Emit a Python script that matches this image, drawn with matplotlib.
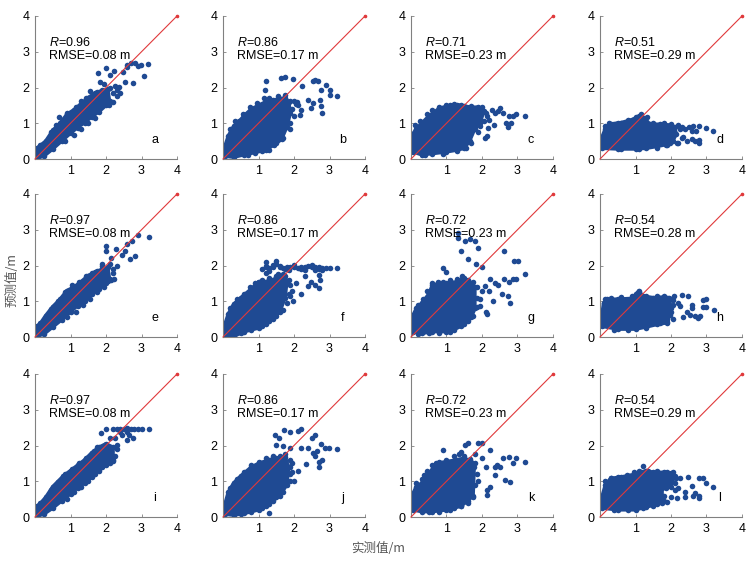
import matplotlib
matplotlib.use("Agg")
import matplotlib.pyplot as plt

plt.rcParams['font.family'] = ['Liberation Sans', 'DejaVu Sans']
plt.rcParams['mathtext.fontset'] = 'custom'
plt.rcParams['mathtext.it'] = 'Liberation Sans:italic'
plt.rcParams['mathtext.rm'] = 'Liberation Sans'

# ---------------- data ----------------
letters = ['a', 'b', 'c', 'd', 'e', 'f', 'g', 'h', 'i', 'j', 'k', 'l']
r_values = ['0.96', '0.86', '0.71', '0.51', '0.97', '0.86', '0.72', '0.54', '0.97', '0.86', '0.72', '0.54']
rmse_values = ['0.08', '0.17', '0.23', '0.29', '0.08', '0.17', '0.23', '0.28', '0.08', '0.17', '0.23', '0.29']
x_ticks = [1, 2, 3, 4]
y_ticks = [0, 1, 2, 3, 4]
ylabel = '预测值/m'
xlabel = '实测值/m'

# dense point clouds: points on the outer edge of each cloud (in order); *_pts: scattered points
a_cloud_x = [0.05, 0.25, 0.5, 0.75, 1.0, 1.2, 1.4, 1.6, 1.8, 2.0, 2.1, 2.05, 1.9, 1.7, 1.5, 1.3, 1.1, 0.9, 0.7, 0.5, 0.3, 0.15, 0.05]
a_cloud_y = [0.02, 0.08, 0.28, 0.5, 0.72, 0.88, 1.02, 1.18, 1.32, 1.5, 1.62, 1.95, 1.92, 1.85, 1.72, 1.55, 1.38, 1.25, 1.0, 0.8, 0.5, 0.38, 0.3]
a_pts_x = [0.69, 1.78, 2.0, 1.83, 2.11, 2.23, 2.54, 2.47, 2.58, 2.7, 2.82, 2.98, 3.19, 3.07, 2.77, 2.09, 2.0, 2.3, 2.38, 1.88, 1.76, 2.6, 2.9,
           0.45, 0.6, 0.9, 1.15, 1.3, 1.45, 1.55, 0.85, 1.1, 1.3, 1.5, 1.7, 2.2, 2.3, 2.2, 2.1, 2.25, 2.4, 1.95]
a_pts_y = [1.17, 2.41, 2.54, 2.16, 2.35, 2.46, 2.16, 2.44, 2.58, 2.69, 2.68, 2.63, 2.65, 2.32, 2.12, 1.51, 1.65, 1.93, 2.02, 1.74, 1.88, 2.62, 2.6,
           0.75, 0.95, 1.3, 1.45, 1.62, 1.72, 1.9, 0.5, 0.67, 0.85, 1.0, 1.15, 1.6, 1.75, 1.85, 2.0, 2.05, 1.85, 2.1]

b_cloud_x = [0.05, 0.3, 0.6, 0.9, 1.2, 1.45, 1.65, 1.8, 1.9, 1.85, 1.75, 1.6, 1.4, 1.2, 1.0, 0.8, 0.6, 0.45, 0.3, 0.15, 0.05]
b_cloud_y = [0.08, 0.05, 0.12, 0.18, 0.25, 0.4, 0.55, 0.9, 1.3, 1.6, 1.72, 1.68, 1.65, 1.6, 1.5, 1.4, 1.22, 1.05, 0.92, 0.65, 0.35]
b_pts_x = [1.64, 1.76, 1.97, 2.23, 2.53, 2.6, 2.67, 2.75, 2.89, 3.0, 3.2, 3.0, 2.72, 2.77, 2.53, 2.49, 2.79, 2.39, 2.2, 1.9, 2.16, 1.22, 1.18, 1.3, 2.05,
           0.2, 0.35, 0.55, 0.75, 0.95, 1.15, 1.3, 1.55, 1.75, 1.9, 2.0, 2.08, 2.1, 1.95, 2.0, 1.9, 1.7, 1.5, 1.1, 0.7]
b_pts_y = [2.26, 2.28, 2.24, 2.03, 2.17, 2.2, 2.17, 1.93, 2.07, 1.93, 1.77, 1.79, 1.65, 1.47, 1.56, 1.42, 1.28, 1.65, 1.37, 1.0, 1.23, 2.19, 1.92, 0.25, 1.55,
           0.85, 1.05, 1.25, 1.45, 1.58, 1.7, 1.72, 1.75, 1.8, 1.62, 1.62, 1.6, 1.5, 1.4, 1.2, 0.85, 0.6, 0.45, 0.22, 0.12]

c_cloud_x = [0.05, 0.3, 0.6, 1.0, 1.3, 1.5, 1.65, 1.8, 1.95, 2.05, 1.9, 1.7, 1.5, 1.3, 1.1, 0.8, 0.5, 0.3, 0.15, 0.05]
c_cloud_y = [0.2, 0.12, 0.15, 0.2, 0.25, 0.3, 0.5, 0.85, 1.0, 1.35, 1.45, 1.45, 1.48, 1.52, 1.5, 1.42, 1.2, 1.0, 0.85, 0.7]
c_pts_x = [3.2, 2.97, 2.76, 2.52, 2.27, 2.36, 2.67, 2.72, 2.81, 2.33, 2.17, 2.13, 1.94, 2.45, 2.6, 2.88, 2.2, 2.08,
           0.1, 0.25, 0.45, 0.6, 0.8, 1.0, 1.2, 1.4, 1.7, 2.0, 2.1, 2.15, 2.05, 1.9, 1.7, 1.55, 1.3, 0.9, 0.4]
c_pts_y = [1.21, 1.25, 1.19, 1.42, 1.37, 1.28, 1.02, 0.89, 1.0, 0.95, 0.86, 0.63, 0.91, 1.35, 1.3, 1.2, 1.1, 0.58,
           0.95, 1.05, 1.25, 1.38, 1.45, 1.52, 1.55, 1.5, 1.48, 1.45, 1.3, 1.2, 1.05, 0.75, 0.45, 0.3, 0.22, 0.15, 0.1]

d_cloud_x = [0.05, 0.5, 1.0, 1.3, 1.6, 1.85, 2.05, 2.15, 2.1, 2.0, 1.7, 1.4, 1.25, 1.1, 0.9, 0.6, 0.3, 0.15, 0.05]
d_cloud_y = [0.3, 0.28, 0.28, 0.3, 0.35, 0.4, 0.5, 0.7, 0.9, 0.95, 0.97, 0.98, 1.15, 1.2, 1.1, 1.02, 0.98, 0.85, 0.6]
d_pts_x = [3.19, 2.99, 2.8, 2.63, 2.7, 2.58, 2.3, 2.58, 2.67, 2.8, 2.44, 2.16, 1.9, 1.97, 2.79, 1.31, 2.4, 2.25, 2.5, 2.35,
           0.15, 0.25, 0.5, 0.8, 1.0, 1.15, 1.5, 1.8, 2.0, 2.2, 2.3, 2.2, 1.6, 1.1, 0.6]
d_pts_y = [0.79, 0.88, 0.91, 0.93, 0.79, 0.79, 0.58, 0.55, 0.49, 0.53, 0.49, 0.46, 0.39, 0.44, 0.44, 1.17, 0.85, 0.85, 0.9, 0.62,
           0.92, 1.0, 1.02, 1.08, 1.18, 1.25, 1.02, 1.0, 0.98, 0.95, 0.9, 0.45, 0.32, 0.27, 0.27]

e_cloud_x = [0.05, 0.25, 0.5, 0.75, 1.0, 1.2, 1.4, 1.6, 1.8, 2.0, 2.1, 2.05, 1.9, 1.7, 1.5, 1.3, 1.1, 0.9, 0.7, 0.5, 0.3, 0.15, 0.05]
e_cloud_y = [0.02, 0.08, 0.28, 0.48, 0.7, 0.88, 1.02, 1.2, 1.35, 1.5, 1.62, 1.95, 1.9, 1.82, 1.72, 1.55, 1.4, 1.3, 1.05, 0.85, 0.6, 0.38, 0.3]
e_pts_x = [3.21, 2.89, 2.72, 2.82, 2.68, 2.54, 2.0, 2.0, 2.28, 2.3, 2.2, 2.07, 2.23, 1.74, 2.6, 2.45, 2.15, 1.9,
           0.45, 0.65, 0.85, 1.05, 1.25, 1.45, 1.6, 0.9, 1.15, 1.35, 1.55, 1.75, 1.95, 2.15, 2.2, 2.1, 1.9]
e_pts_y = [2.8, 2.86, 2.68, 2.26, 2.17, 2.4, 2.54, 2.4, 2.46, 1.98, 1.91, 1.56, 1.63, 1.84, 2.6, 2.3, 2.2, 2.05,
           0.78, 1.0, 1.25, 1.45, 1.55, 1.7, 1.78, 0.55, 0.7, 0.9, 1.05, 1.25, 1.4, 1.6, 1.8, 2.05, 2.0]

f_cloud_x = [0.05, 0.3, 0.6, 1.0, 1.2, 1.4, 1.6, 1.75, 1.8, 1.75, 1.6, 1.4, 1.2, 1.0, 0.8, 0.5, 0.3, 0.15, 0.05]
f_cloud_y = [0.05, 0.02, 0.15, 0.25, 0.35, 0.5, 0.7, 1.1, 1.55, 1.7, 1.7, 1.6, 1.55, 1.55, 1.35, 1.1, 0.92, 0.65, 0.35]
f_pts_x = [1.1, 1.2, 1.3, 1.4, 1.5, 1.6, 1.7, 1.8, 1.9, 2.0, 2.1, 2.2, 2.3, 2.4, 2.5, 2.6, 2.7, 2.8, 2.9, 3.0, 3.2,
           1.22, 1.5, 1.2, 1.3, 1.55, 1.85, 2.3, 2.6, 2.8,
           2.3, 2.49, 2.39, 2.58, 2.7, 2.74, 2.7, 2.21, 1.97, 1.88, 2.05, 1.95,
           0.2, 0.4, 0.6, 0.75, 0.9, 1.1, 1.3, 1.5, 1.7, 1.85, 1.9, 1.85, 1.8, 1.7, 1.5, 1.3, 1.1, 0.8, 0.5, 0.25,
           1.2, 1.4, 1.6, 1.75, 2.0, 2.2, 2.5, 2.7]
f_pts_y = [1.9, 1.95, 1.92, 1.97, 2.05, 1.95, 1.93, 1.97, 1.95, 1.96, 1.93, 1.97, 1.95, 1.98, 1.96, 1.95, 1.97, 1.94, 1.93, 1.93, 1.92,
           2.09, 2.12, 1.8, 1.85, 1.75, 1.88, 1.88, 1.87, 1.88,
           1.7, 1.55, 1.44, 1.45, 1.73, 1.59, 1.36, 1.19, 1.0, 1.15, 1.5, 1.3,
           0.8, 1.05, 1.2, 1.4, 1.5, 1.6, 1.65, 1.72, 1.75, 1.6, 1.45, 1.2, 0.95, 0.75, 0.6, 0.45, 0.3, 0.2, 0.1, 0.05,
           2.0, 2.02, 2.0, 1.9, 2.02, 1.9, 2.02, 1.9]

g_cloud_x = [0.05, 0.3, 0.6, 1.0, 1.2, 1.5, 1.7, 1.8, 1.8, 1.7, 1.5, 1.3, 1.0, 0.8, 0.6, 0.5, 0.3, 0.15, 0.05]
g_cloud_y = [0.15, 0.1, 0.15, 0.15, 0.2, 0.35, 0.55, 0.8, 1.4, 1.5, 1.65, 1.55, 1.5, 1.5, 1.45, 1.2, 0.95, 0.8, 0.6]
g_pts_x = [1.31, 1.31, 1.52, 1.66, 1.8, 1.89, 1.41, 1.61, 1.83, 1.99, 0.89, 1.0, 2.61, 2.9, 3.02, 3.22, 2.97, 2.87, 2.75,
           2.61, 2.36, 2.22, 2.08, 2.55, 2.72, 2.78, 2.11, 2.14, 2.31, 1.94, 1.94, 2.0, 2.45, 2.2,
           0.2, 0.35, 0.45, 0.6, 0.75, 0.9, 1.1, 1.3, 1.45, 1.6, 1.75, 1.85, 1.85, 1.85, 1.75, 1.6, 1.4, 1.1, 0.8, 0.5, 0.2]
g_pts_y = [2.91, 2.77, 2.68, 2.74, 2.68, 2.49, 2.4, 2.17, 2.03, 1.96, 1.94, 1.81, 2.4, 2.12, 2.12, 1.77, 1.61, 1.61, 1.54,
           1.61, 1.52, 1.61, 1.43, 1.19, 1.15, 0.96, 0.69, 0.64, 1.0, 1.06, 0.87, 1.3, 1.45, 1.3,
           0.9, 1.05, 1.3, 1.52, 1.55, 1.55, 1.6, 1.62, 1.7, 1.6, 1.55, 1.4, 1.1, 0.85, 0.6, 0.45, 0.3, 0.15, 0.12, 0.1, 0.08]

h_cloud_x = [0.05, 0.5, 1.0, 1.3, 1.6, 1.9, 2.0, 1.95, 1.8, 1.5, 1.2, 1.1, 0.9, 0.5, 0.2, 0.1, 0.05]
h_cloud_y = [0.3, 0.22, 0.22, 0.28, 0.35, 0.4, 0.8, 1.1, 1.12, 1.1, 1.15, 1.3, 1.08, 1.06, 1.05, 0.95, 0.6]
h_pts_x = [3.2, 3.0, 2.89, 3.0, 2.9, 2.49, 2.58, 2.58, 2.3, 2.09, 2.07, 2.26, 2.68, 2.77, 2.82, 2.54, 2.35, 2.07, 1.88, 1.97, 2.2, 2.45,
           0.15, 0.3, 0.6, 0.9, 1.0, 1.3, 1.6, 1.8, 2.0, 2.05, 2.0, 1.9, 1.7, 1.3, 0.8, 0.4]
h_pts_y = [0.75, 1.06, 1.04, 0.84, 0.84, 1.15, 0.89, 0.82, 1.17, 1.15, 1.04, 0.87, 0.59, 0.52, 0.59, 0.61, 0.55, 0.5, 0.41, 0.61, 0.95, 0.7,
           1.05, 1.1, 1.12, 1.15, 1.2, 1.15, 1.15, 1.15, 1.05, 0.9, 0.7, 0.5, 0.38, 0.25, 0.2, 0.2]

i_cloud_x = [0.05, 0.25, 0.5, 0.75, 1.0, 1.2, 1.4, 1.6, 1.8, 2.0, 2.2, 2.2, 2.0, 1.8, 1.6, 1.4, 1.2, 1.0, 0.8, 0.5, 0.3, 0.15, 0.05]
i_cloud_y = [0.02, 0.08, 0.25, 0.45, 0.65, 0.82, 0.95, 1.12, 1.3, 1.45, 1.6, 1.95, 2.05, 1.95, 1.8, 1.6, 1.45, 1.3, 1.15, 0.85, 0.55, 0.38, 0.3]
i_pts_x = [2.0, 2.2, 2.3, 2.4, 2.5, 2.6, 2.7, 2.8, 2.9, 3.0, 3.21, 2.6, 2.77, 2.58, 2.32, 2.21, 2.19, 2.0, 1.86, 2.45, 2.65, 2.4,
           0.45, 0.65, 0.85, 1.05, 1.25, 1.45, 1.65, 1.75, 0.9, 1.1, 1.3, 1.5, 1.7, 1.9, 2.1, 2.25, 2.3, 2.25, 2.1]
i_pts_y = [2.47, 2.45, 2.45, 2.47, 2.45, 2.5, 2.47, 2.45, 2.47, 2.47, 2.47, 2.38, 2.22, 2.15, 2.01, 1.68, 1.56, 1.87, 2.35, 2.3, 2.3, 2.38,
           0.75, 0.98, 1.2, 1.35, 1.5, 1.65, 1.85, 1.95, 0.5, 0.7, 0.85, 1.0, 1.2, 1.4, 1.5, 1.7, 1.9, 2.2, 2.2]

j_cloud_x = [0.05, 0.3, 0.6, 1.0, 1.2, 1.4, 1.6, 1.8, 1.85, 1.75, 1.5, 1.3, 1.0, 0.8, 0.5, 0.3, 0.15, 0.05]
j_cloud_y = [0.08, 0.05, 0.1, 0.2, 0.3, 0.45, 0.6, 0.9, 1.4, 1.68, 1.65, 1.6, 1.5, 1.4, 1.15, 0.95, 0.7, 0.35]
j_pts_x = [1.72, 1.88, 2.2, 2.11, 1.46, 1.58, 1.5, 1.69, 1.88, 2.51, 2.58, 2.2, 2.39, 2.53, 2.64, 2.77, 2.86, 2.98, 3.2,
           2.79, 2.7, 2.7, 2.58, 2.33, 2.1, 2.0, 1.95, 1.9,
           0.2, 0.4, 0.6, 0.8, 1.0, 1.2, 1.4, 1.6, 1.75, 1.9, 1.95, 1.9, 1.9, 1.7, 1.5, 1.3, 1.1, 0.8, 0.5, 1.3]
j_pts_y = [2.44, 2.37, 2.46, 2.41, 2.3, 2.2, 2.02, 2.0, 1.92, 2.2, 2.28, 1.92, 1.93, 1.79, 1.84, 2.04, 1.94, 1.92, 1.9,
           1.6, 1.54, 1.4, 1.72, 1.47, 1.3, 1.0, 1.25, 1.4,
           0.8, 1.05, 1.25, 1.45, 1.55, 1.65, 1.7, 1.72, 1.75, 1.6, 1.5, 1.2, 1.0, 0.7, 0.55, 0.35, 0.25, 0.15, 0.08, 0.12]

k_cloud_x = [0.05, 0.3, 0.6, 1.0, 1.2, 1.4, 1.6, 1.75, 1.78, 1.7, 1.5, 1.3, 1.0, 0.7, 0.5, 0.3, 0.15, 0.05]
k_cloud_y = [0.2, 0.15, 0.15, 0.2, 0.25, 0.3, 0.45, 0.6, 1.4, 1.55, 1.65, 1.6, 1.55, 1.5, 1.2, 0.95, 0.85, 0.65]
k_pts_x = [3.22, 2.97, 2.88, 2.76, 2.59, 2.43, 2.36, 2.22, 1.99, 1.89, 1.61, 1.52, 1.4, 0.89, 0.37, 2.78, 2.64, 2.13,
           2.36, 2.22, 1.8, 2.0, 2.1, 1.9, 2.5, 2.15,
           0.15, 0.3, 0.45, 0.6, 0.8, 1.0, 1.2, 1.35, 1.5, 1.65, 1.8, 1.85, 1.8, 1.75, 1.6, 1.4, 1.1, 0.8, 0.5]
k_pts_y = [1.54, 1.64, 1.5, 1.68, 1.64, 1.45, 1.39, 1.87, 2.06, 2.06, 2.06, 2.01, 1.82, 1.87, 1.17, 0.99, 1.03, 0.61,
           1.17, 0.85, 1.75, 1.65, 1.4, 1.0, 1.4, 0.75,
           0.95, 1.05, 1.3, 1.45, 1.55, 1.6, 1.7, 1.75, 1.7, 1.62, 1.5, 1.2, 0.9, 0.55, 0.4, 0.3, 0.2, 0.15, 0.15]

l_cloud_x = [0.05, 0.5, 1.0, 1.3, 1.6, 1.75, 1.75, 2.0, 2.1, 2.0, 1.8, 1.5, 1.3, 1.15, 1.0, 0.6, 0.3, 0.15, 0.05]
l_cloud_y = [0.25, 0.2, 0.2, 0.28, 0.35, 0.4, 0.8, 0.85, 1.15, 1.22, 1.25, 1.25, 1.3, 1.25, 1.2, 1.12, 1.08, 0.9, 0.55]
l_pts_x = [3.19, 2.99, 2.89, 2.8, 2.49, 2.58, 2.25, 2.68, 2.8, 2.8, 2.63, 2.39, 2.16, 1.9, 1.99, 1.2, 2.2, 2.4, 2.1,
           0.15, 0.3, 0.5, 0.75, 0.95, 1.1, 1.35, 1.6, 1.9, 2.05, 2.15, 2.1, 1.85, 1.8, 1.8, 1.5, 1.2, 0.8, 0.4]
l_pts_y = [0.85, 0.94, 1.08, 1.08, 1.11, 0.87, 1.08, 0.66, 0.59, 0.52, 0.59, 0.56, 0.52, 0.43, 0.57, 1.42, 0.8, 0.7, 0.75,
           1.0, 1.1, 1.12, 1.17, 1.25, 1.3, 1.28, 1.28, 1.27, 1.25, 1.1, 0.95, 0.8, 0.6, 0.45, 0.32, 0.25, 0.2, 0.2]

# ---------------- layout / style ----------------
W, H = 756, 561
lefts = [35, 223, 411, 600]
tops = [16, 194, 374]
AW, AH = 142, 143
BLUE = '#1f4a93'
RED = '#e0393b'
GRAY = '#808080'

clouds = [(a_cloud_x, a_cloud_y, a_pts_x, a_pts_y), (b_cloud_x, b_cloud_y, b_pts_x, b_pts_y),
          (c_cloud_x, c_cloud_y, c_pts_x, c_pts_y), (d_cloud_x, d_cloud_y, d_pts_x, d_pts_y),
          (e_cloud_x, e_cloud_y, e_pts_x, e_pts_y), (f_cloud_x, f_cloud_y, f_pts_x, f_pts_y),
          (g_cloud_x, g_cloud_y, g_pts_x, g_pts_y), (h_cloud_x, h_cloud_y, h_pts_x, h_pts_y),
          (i_cloud_x, i_cloud_y, i_pts_x, i_pts_y), (j_cloud_x, j_cloud_y, j_pts_x, j_pts_y),
          (k_cloud_x, k_cloud_y, k_pts_x, k_pts_y), (l_cloud_x, l_cloud_y, l_pts_x, l_pts_y)]

fig = plt.figure(figsize=(W / 100, H / 100), dpi=100)

for idx, (cx, cy, px, py) in enumerate(clouds):
    r, c = divmod(idx, 4)
    ax = fig.add_axes([lefts[c] / W, 1 - (tops[r] + AH) / H, AW / W, AH / H])
    ax.fill(cx, cy, color=BLUE, lw=2.5, joinstyle='round', zorder=2)
    ax.scatter(cx, cy, s=16, color=BLUE, lw=0, zorder=2)
    ax.scatter(px, py, s=16, color=BLUE, lw=0, zorder=2)
    ax.plot([0, 4], [0, 4], color=RED, lw=0.8, zorder=3, clip_on=False)
    ax.plot([4], [4], 'o', color=RED, ms=1.6, zorder=3, clip_on=False)
    ax.set_xlim(0, 4)
    ax.set_ylim(0, 4)
    ax.set_xticks(x_ticks)
    ax.set_yticks(y_ticks)
    ax.set_xticklabels([str(t) for t in x_ticks])
    ax.set_yticklabels([str(t) for t in y_ticks])
    for s in ['top', 'right']:
        ax.spines[s].set_visible(False)
    for s in ['left', 'bottom']:
        ax.spines[s].set_color(GRAY)
        ax.spines[s].set_linewidth(0.8)
    ax.tick_params(direction='in', length=2, width=0.6, color=GRAY, labelsize=9, pad=4, labelcolor='black')
    ax.text(0.4, 3.27, r'$R$=' + r_values[idx], fontsize=9, va='center', ha='left')
    ax.text(0.4, 2.88, 'RMSE=' + rmse_values[idx] + ' m', fontsize=9, va='center', ha='left')
    ax.text(3.38, 0.52, letters[idx], fontsize=9, va='center', ha='center')

fig.text(12 / W, 1 - 280 / H, ylabel, rotation=90, va='center', ha='center', fontsize=9,
         color='#555555', family=['Noto Sans CJK SC', 'Liberation Sans'])
fig.text(378 / W, 1 - 548 / H, xlabel, va='center', ha='center', fontsize=9,
         color='#555555', family=['Noto Sans CJK SC', 'Liberation Sans'])

fig.savefig('out.png', dpi=100)
